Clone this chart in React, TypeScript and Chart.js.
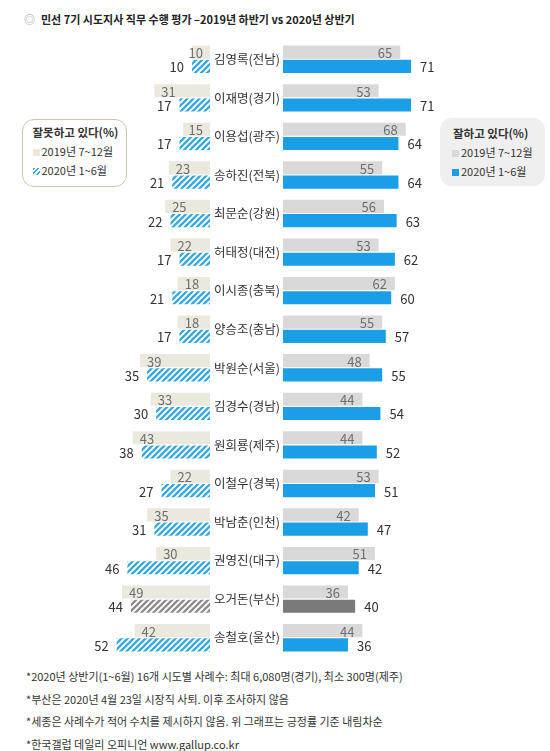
import React, { useEffect, useRef } from 'react';
import { Chart, registerables } from 'chart.js';

Chart.register(...registerables);

const names = ['김영록(전남)', '이재명(경기)', '이용섭(광주)', '송하진(전북)', '최문순(강원)', '허태정(대전)', '이시종(충북)', '양승조(충남)', '박원순(서울)', '김경수(경남)', '원희룡(제주)', '이철우(경북)', '박남춘(인천)', '권영진(대구)', '오거돈(부산)', '송철호(울산)'];
const good2019 = [65, 53, 68, 55, 56, 53, 62, 55, 48, 44, 44, 53, 42, 51, 36, 44];
const good2020 = [71, 71, 64, 64, 63, 62, 60, 57, 55, 54, 52, 51, 47, 42, 40, 36];
const bad2019 = [10, 31, 15, 23, 25, 22, 18, 18, 39, 33, 43, 22, 35, 30, 49, 42];
const bad2020 = [10, 17, 17, 21, 22, 17, 21, 17, 35, 30, 38, 27, 31, 46, 44, 52];
const suspended = ['오거돈(부산)'];
const periods = ['2019년 7~12월', '2020년 1~6월'];
const titleText = '민선 7기 시도지사 직무 수행 평가 –2019년 하반기 vs 2020년 상반기';
const badTitle = '잘못하고 있다(%)';
const goodTitle = '잘하고 있다(%)';
const notes = [
  '*2020년 상반기(1~6월) 16개 시도별 사례수: 최대 6,080명(경기), 최소 300명(제주)',
  '*부산은 2020년 4월 23일 시장직 사퇴. 이후 조사하지 않음',
  '*세종은 사례수가 적어 수치를 제시하지 않음. 위 그래프는 긍정률 기준 내림차순',
  '*한국갤럽 데일리 오피니언 www.gallup.co.kr',
];

const FONT = "'Noto Sans CJK KR', 'Noto Sans', sans-serif";
const BLUE = '#1a9fe6';
const GREY = '#d9d9d9';
const BEIGE = '#ebe8de';
const DARK = '#7a7a7a';
const HATCH_BLUE = '#38a9dd';
const HATCH_GREY = '#8c8c8c';

function hatch(ctx: CanvasRenderingContext2D, color: string) {
  const s = 6;
  const c = document.createElement('canvas');
  c.width = s;
  c.height = s;
  const g = c.getContext('2d')!;
  g.fillStyle = '#ffffff';
  g.fillRect(0, 0, s, s);
  g.strokeStyle = color;
  g.lineWidth = 2.3;
  g.beginPath();
  g.moveTo(-1, s + 1); g.lineTo(s + 1, -1);
  g.moveTo(-1, 1); g.lineTo(1, -1);
  g.moveTo(s - 1, s + 1); g.lineTo(s + 1, s - 1);
  g.stroke();
  return ctx.createPattern(c, 'repeat')!;
}

function valueLabels(side: 'left' | 'right') {
  return {
    id: 'valueLabels_' + side,
    afterDatasetsDraw(chart: any) {
      const ctx = chart.ctx as CanvasRenderingContext2D;
      ctx.save();
      ctx.font = `13px ${FONT}`;
      ctx.textBaseline = 'middle';
      chart.data.datasets.forEach((ds: any, di: number) => {
        const meta = chart.getDatasetMeta(di);
        meta.data.forEach((el: any, i: number) => {
          const t = String(ds.data[i]);
          const w = ctx.measureText(t).width;
          const y = el.y + 1;
          if (di === 0) {
            ctx.fillStyle = '#6e6e6e';
            if (side === 'right') {
              ctx.textAlign = 'right';
              ctx.fillText(t, el.x - 8, y);
            } else {
              ctx.textAlign = 'left';
              ctx.fillText(t, Math.min(el.x + 7, el.base - 7 - w), y);
            }
          } else {
            ctx.fillStyle = '#333333';
            if (side === 'right') {
              ctx.textAlign = 'left';
              ctx.fillText(t, el.x + 9, y);
            } else {
              ctx.textAlign = 'right';
              ctx.fillText(t, el.x - 8, y);
            }
          }
        });
      });
      ctx.restore();
    },
  };
}

const nameLabels = {
  id: 'nameLabels',
  afterDraw(chart: any) {
    const ctx = chart.ctx as CanvasRenderingContext2D;
    const ys = chart.scales.y;
    ctx.save();
    ctx.font = `12.5px ${FONT}`;
    ctx.fillStyle = '#333333';
    ctx.textAlign = 'center';
    ctx.textBaseline = 'middle';
    names.forEach((n, i) => {
      ctx.fillText(n, chart.chartArea.left - 36, ys.getPixelForValue(i));
    });
    ctx.restore();
  },
};

const barOpts = { categoryPercentage: 0.74, barPercentage: 0.92, borderWidth: 0 };

export default function App() {
  const leftRef = useRef<HTMLCanvasElement>(null);
  const rightRef = useRef<HTMLCanvasElement>(null);

  useEffect(() => {
    const lctx = leftRef.current!.getContext('2d')!;
    const rctx = rightRef.current!.getContext('2d')!;
    const hb = hatch(lctx, HATCH_BLUE);
    const hg = hatch(lctx, HATCH_GREY);

    const left = new Chart(lctx, {
      type: 'bar',
      data: {
        labels: names,
        datasets: [
          { data: bad2019, backgroundColor: names.map(() => BEIGE), ...barOpts },
          { data: bad2020, backgroundColor: names.map((n) => (suspended.includes(n) ? hg : hb)), ...barOpts },
        ],
      },
      options: {
        indexAxis: 'y',
        animation: false,
        responsive: false,
        maintainAspectRatio: false,
        layout: { padding: { left: 0, right: 3, top: 0, bottom: 0 } },
        plugins: { legend: { display: false }, tooltip: { enabled: false } },
        scales: {
          x: { min: 0, max: 117, reverse: true, display: false },
          y: { display: false },
        },
      },
      plugins: [valueLabels('left')],
    } as any);

    const right = new Chart(rctx, {
      type: 'bar',
      data: {
        labels: names,
        datasets: [
          { data: good2019, backgroundColor: names.map(() => GREY), ...barOpts },
          { data: good2020, backgroundColor: names.map((n) => (suspended.includes(n) ? DARK : BLUE)), ...barOpts },
        ],
      },
      options: {
        indexAxis: 'y',
        animation: false,
        responsive: false,
        maintainAspectRatio: false,
        layout: { padding: { left: 70, right: 0, top: 0, bottom: 0 } },
        plugins: { legend: { display: false }, tooltip: { enabled: false } },
        scales: {
          x: { min: 0, max: 148, display: false },
          y: { display: false },
        },
      },
      plugins: [valueLabels('right'), nameLabels],
    } as any);

    return () => {
      left.destroy();
      right.destroy();
    };
  }, []);

  const sw = (bg: string): React.CSSProperties => ({
    display: 'inline-block',
    width: 7,
    height: 7,
    background: bg,
    marginRight: 2,
    verticalAlign: 'middle',
    position: 'relative',
    top: -1,
  });
  const hatchCss = `repeating-linear-gradient(135deg, ${HATCH_BLUE} 0 1.6px, #fff 1.6px 3.2px)`;

  return (
    <div style={{ position: 'absolute', left: 0, top: 0, width: 550, height: 751, background: '#fff', fontFamily: FONT, color: '#333', overflow: 'hidden' }}>
      <div style={{ position: 'absolute', left: 24, top: 10, fontSize: 11, lineHeight: '18px', fontWeight: 700, whiteSpace: 'nowrap', color: '#222' }}>
        <span style={{ color: '#9a9a9a', fontWeight: 400, marginRight: 6 }}>◎</span>
        {titleText}
      </div>

      <canvas ref={leftRef} width={213} height={617} style={{ position: 'absolute', left: 0, top: 40, width: 213, height: 617 }} />
      <canvas ref={rightRef} width={337} height={617} style={{ position: 'absolute', left: 213, top: 40, width: 337, height: 617 }} />

      <div style={{ position: 'absolute', left: 22, top: 119, width: 105, height: 68, boxSizing: 'border-box', border: '1.5px solid #cdc5ad', borderRadius: 12, background: '#fff', paddingTop: 3, paddingLeft: 9.5, fontSize: 11, lineHeight: '19px', whiteSpace: 'nowrap' }}>
        <div style={{ fontWeight: 700, fontSize: 11.5 }}>{badTitle}</div>
        <div><span style={sw(BEIGE)} />{periods[0]}</div>
        <div><span style={sw(hatchCss)} />{periods[1]}</div>
      </div>

      <div style={{ position: 'absolute', left: 440, top: 118, width: 105, height: 68, boxSizing: 'border-box', borderRadius: 12, background: '#efefef', paddingTop: 6, paddingLeft: 12, fontSize: 11, lineHeight: '19px', whiteSpace: 'nowrap' }}>
        <div style={{ fontWeight: 700, fontSize: 11.5, paddingLeft: 1 }}>{goodTitle}</div>
        <div><span style={sw(GREY)} />{periods[0]}</div>
        <div><span style={sw(BLUE)} />{periods[1]}</div>
      </div>

      <div style={{ position: 'absolute', left: 26, top: 665, fontSize: 11, lineHeight: '22.5px', whiteSpace: 'nowrap', color: '#333' }}>
        {notes.map((n) => (
          <div key={n}>{n}</div>
        ))}
      </div>
    </div>
  );
}
